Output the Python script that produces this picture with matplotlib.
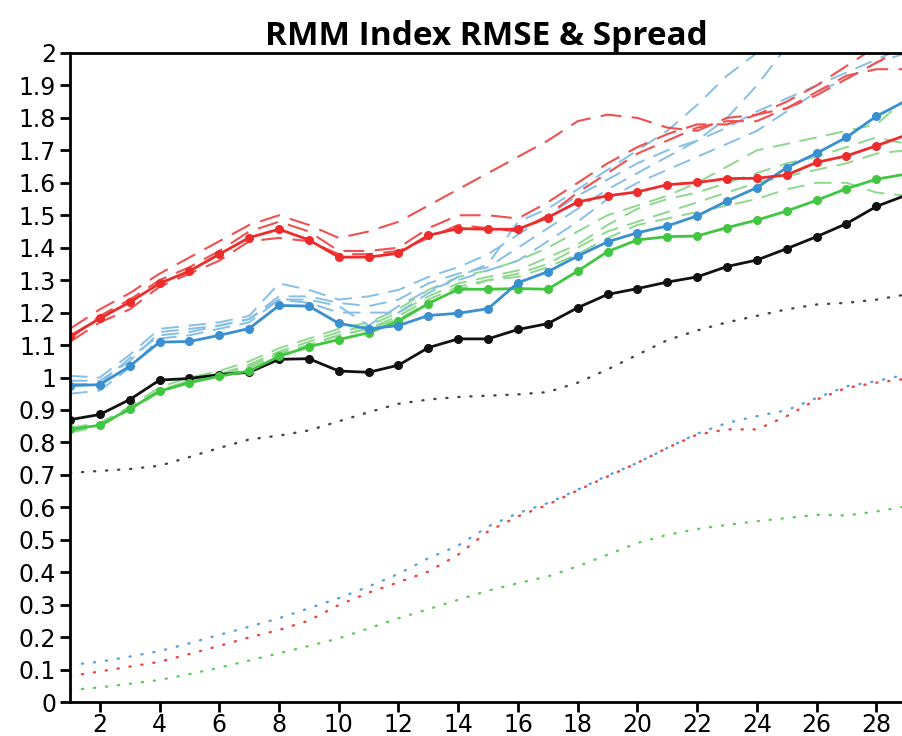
"""
plot.py
-------

RMM index RMSE and spread by forecast lead day.
"""

import matplotlib
matplotlib.use("Agg")
from matplotlib import pyplot as plt

lead = list(range(1, 30))

# ensemble-mean RMSE (solid with dots)
rmse_red = [1.127, 1.182, 1.232, 1.290, 1.328, 1.380, 1.431, 1.457, 1.424, 1.371,
            1.371, 1.383, 1.438, 1.459, 1.457, 1.457, 1.493, 1.541, 1.560, 1.572,
            1.594, 1.601, 1.613, 1.614, 1.624, 1.663, 1.683, 1.714, 1.747]
rmse_blue = [0.975, 0.978, 1.035, 1.109, 1.111, 1.130, 1.151, 1.222, 1.220, 1.167,
             1.150, 1.160, 1.191, 1.198, 1.212, 1.292, 1.326, 1.374, 1.418, 1.446,
             1.467, 1.498, 1.544, 1.585, 1.647, 1.691, 1.740, 1.805, 1.853]
rmse_green = [0.840, 0.853, 0.903, 0.958, 0.984, 1.004, 1.020, 1.065, 1.095, 1.117,
              1.138, 1.174, 1.228, 1.272, 1.272, 1.274, 1.272, 1.328, 1.388, 1.424,
              1.434, 1.436, 1.462, 1.485, 1.513, 1.546, 1.582, 1.611, 1.627]
rmse_black = [0.870, 0.886, 0.932, 0.992, 0.997, 1.009, 1.016, 1.056, 1.058, 1.020,
              1.016, 1.038, 1.092, 1.119, 1.119, 1.148, 1.166, 1.215, 1.256, 1.274,
              1.294, 1.310, 1.342, 1.362, 1.397, 1.434, 1.474, 1.527, 1.562]

# single-member RMSE (dashed)
member_red = [
    [1.15, 1.21, 1.26, 1.32, 1.37, 1.42, 1.47, 1.50, 1.47, 1.43, 1.45, 1.48, 1.53, 1.58, 1.63,
     1.68, 1.73, 1.79, 1.81, 1.80, 1.77, 1.76, 1.80, 1.81, 1.83, 1.88, 1.93, 1.95, 1.95],
    [1.12, 1.19, 1.24, 1.30, 1.34, 1.39, 1.45, 1.48, 1.45, 1.39, 1.39, 1.40, 1.46, 1.50, 1.50,
     1.49, 1.54, 1.60, 1.66, 1.71, 1.75, 1.78, 1.78, 1.81, 1.85, 1.90, 1.96, 2.02, 2.06],
    [1.11, 1.17, 1.21, 1.28, 1.32, 1.36, 1.42, 1.43, 1.42, 1.38, 1.38, 1.39, 1.43, 1.47, 1.46,
     1.45, 1.50, 1.57, 1.63, 1.69, 1.73, 1.77, 1.79, 1.79, 1.83, 1.87, 1.92, 1.97, 2.02],
]
member_blue = [
    [1.005, 1.00, 1.07, 1.15, 1.16, 1.17, 1.19, 1.29, 1.27, 1.24, 1.25, 1.27, 1.31, 1.34, 1.38,
     1.44, 1.50, 1.56, 1.61, 1.66, 1.70, 1.73, 1.80, 1.90, 2.02, 2.10, 2.15, 2.20, 2.25],
    [0.99, 0.99, 1.05, 1.14, 1.15, 1.16, 1.18, 1.25, 1.25, 1.23, 1.22, 1.24, 1.29, 1.32, 1.34,
     1.40, 1.46, 1.52, 1.58, 1.63, 1.68, 1.73, 1.77, 1.82, 1.86, 1.90, 1.94, 1.98, 2.02],
    [0.95, 0.96, 1.03, 1.12, 1.13, 1.15, 1.17, 1.24, 1.24, 1.22, 1.16, 1.22, 1.27, 1.30, 1.33,
     1.36, 1.42, 1.48, 1.55, 1.60, 1.64, 1.68, 1.72, 1.76, 1.82, 1.88, 1.92, 1.97, 2.00],
    [0.98, 0.98, 1.06, 1.13, 1.14, 1.16, 1.18, 1.24, 1.23, 1.20, 1.20, 1.20, 1.26, 1.31, 1.35,
     1.48, 1.52, 1.58, 1.64, 1.70, 1.76, 1.84, 1.93, 2.00, 2.06, 2.12, 2.20, 2.25, 2.30],
]
member_green = [
    [0.845, 0.86, 0.91, 0.97, 1.00, 1.02, 1.05, 1.09, 1.12, 1.15, 1.17, 1.21, 1.27, 1.31, 1.33,
     1.36, 1.40, 1.45, 1.50, 1.53, 1.56, 1.60, 1.65, 1.70, 1.72, 1.74, 1.76, 1.78, 1.86],
    [0.84, 0.855, 0.905, 0.96, 0.99, 1.01, 1.04, 1.08, 1.11, 1.14, 1.16, 1.20, 1.25, 1.29, 1.31,
     1.33, 1.37, 1.41, 1.47, 1.52, 1.55, 1.57, 1.60, 1.63, 1.66, 1.68, 1.71, 1.74, 1.72],
    [0.835, 0.85, 0.90, 0.955, 0.985, 1.005, 1.03, 1.07, 1.10, 1.13, 1.15, 1.18, 1.23, 1.27, 1.30,
     1.31, 1.34, 1.38, 1.43, 1.47, 1.49, 1.51, 1.53, 1.55, 1.58, 1.60, 1.60, 1.57, 1.56],
    [0.83, 0.85, 0.905, 0.96, 0.99, 1.01, 1.035, 1.075, 1.10, 1.13, 1.15, 1.19, 1.24, 1.28, 1.30,
     1.32, 1.35, 1.40, 1.45, 1.48, 1.51, 1.54, 1.57, 1.60, 1.62, 1.64, 1.66, 1.69, 1.70],
]

# ensemble spread (dotted)
spread_black = [0.706, 0.712, 0.718, 0.728, 0.755, 0.783, 0.809, 0.821, 0.837, 0.865,
                0.893, 0.919, 0.932, 0.940, 0.944, 0.948, 0.955, 0.984, 1.025, 1.070,
                1.115, 1.145, 1.170, 1.190, 1.210, 1.225, 1.230, 1.240, 1.256]
spread_blue = [0.114, 0.124, 0.140, 0.157, 0.181, 0.207, 0.232, 0.258, 0.289, 0.320,
               0.356, 0.395, 0.443, 0.482, 0.541, 0.582, 0.613, 0.654, 0.698, 0.737,
               0.783, 0.827, 0.860, 0.881, 0.899, 0.937, 0.973, 0.989, 1.009]
spread_red = [0.080, 0.094, 0.109, 0.124, 0.148, 0.173, 0.199, 0.222, 0.251, 0.299,
              0.337, 0.369, 0.402, 0.454, 0.526, 0.572, 0.608, 0.652, 0.695, 0.737,
              0.783, 0.824, 0.840, 0.840, 0.881, 0.932, 0.968, 0.984, 0.996]
spread_green = [0.037, 0.045, 0.056, 0.068, 0.086, 0.106, 0.128, 0.150, 0.173, 0.196,
                0.227, 0.258, 0.286, 0.315, 0.343, 0.366, 0.387, 0.418, 0.454, 0.490,
                0.515, 0.533, 0.546, 0.557, 0.567, 0.577, 0.575, 0.587, 0.603]

y_ticks = [i / 10 for i in range(21)]
y_labels = ["0", "0.1", "0.2", "0.3", "0.4", "0.5", "0.6", "0.7", "0.8", "0.9", "1",
            "1.1", "1.2", "1.3", "1.4", "1.5", "1.6", "1.7", "1.8", "1.9", "2"]
x_ticks = list(range(2, 29, 2))

RED = "#ee2b2b"
BLUE = "#3a8fd0"
GREEN = "#41c63f"
BLACK = "#111111"


def make_plot():
    """Draw RMSE (solid, dashed) and spread (dotted) curves."""
    fig = plt.figure(figsize=(9.02, 7.36), dpi=100)
    ax = fig.add_axes([70 / 902, 34 / 736, 832 / 902, 649 / 736])

    # dotted spread curves
    for vals, col in [(spread_black, "#444444"), (spread_blue, "#5aa0e0"),
                      (spread_red, "#f04040"), (spread_green, "#5ccc5c")]:
        ax.plot(lead, vals, color=col, lw=1.7, ls=(0, (0.5, 4.6)),
                dash_capstyle="round")

    # dashed member curves
    for vals in member_green:
        ax.plot(lead, vals, color="#8ed88e", lw=1.4, ls=(0, (9, 5)))
    for vals in member_blue:
        ax.plot(lead, vals, color="#86bfe6", lw=1.4, ls=(0, (9, 5)))
    for vals in member_red:
        ax.plot(lead, vals, color="#f05050", lw=1.5, ls=(0, (10, 5)))

    # solid mean curves with dots
    for vals, col in [(rmse_black, BLACK), (rmse_green, GREEN),
                      (rmse_blue, BLUE), (rmse_red, RED)]:
        ax.plot(lead, vals, color=col, lw=2.0, marker="o", ms=5.5)

    ax.set_xlim(1, 28.86)
    ax.set_ylim(0, 2)
    ax.set_xticks(x_ticks)
    ax.set_yticks(y_ticks)
    ax.set_yticklabels(y_labels)
    ax.tick_params(direction="out", length=7, width=2, labelsize=17,
                   colors="black")
    ax.tick_params(axis="y", pad=3)
    ax.tick_params(axis="x", pad=1)
    for lbl in ax.get_xticklabels() + ax.get_yticklabels():
        lbl.set_family("DejaVu Sans")
    for side in ["left", "bottom", "top"]:
        ax.spines[side].set_linewidth(2)
    ax.spines["right"].set_visible(False)

    ax.set_title("RMM Index RMSE & Spread", fontsize=24, fontweight="bold",
                 family="Open Sans", pad=6)

    fig.savefig("out.png", dpi=100)


if __name__ == "__main__":
    make_plot()
